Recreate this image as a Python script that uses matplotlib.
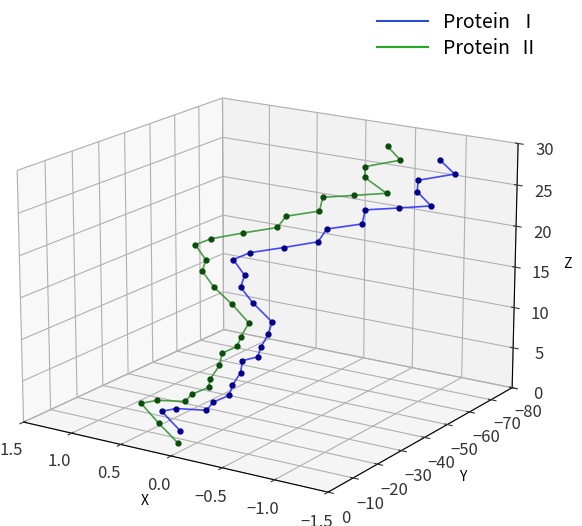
import numpy as np
import matplotlib
matplotlib.use("Agg")
import matplotlib.pyplot as plt
from matplotlib.lines import Line2D

plt.rcParams['font.family'] = ['Noto Sans CJK SC', 'DejaVu Sans']
plt.rcParams['axes.unicode_minus'] = True

# backbone coordinates (bottom -> top)
p1_x = [0.17, 0.45, 0.27, -0.08, -0.13, -0.26, -0.26, -0.26, -0.22, -0.39,
        -0.39, -0.38, -0.35, -0.05, 0.14, 0.17, 0.37, 0.23, -0.06, -0.34,
        -0.33, -0.63, -0.56, -0.90, -1.22, -1.03, -0.99, -1.28, -1.08]
p1_y = [-10.0, -13.7, -12.5, -10.6, -11.2, -12.4, -13.6, -16.8, -19.2, -18.3,
        -19.7, -23.0, -25.7, -30.1, -33.0, -35.8, -39.3, -40.4, -42.5, -44.9,
        -49.0, -51.0, -55.4, -54.9, -54.2, -56.8, -59.0, -61.7, -64.3]
p1_z = [1, 2, 3, 4, 5, 6, 7, 8, 9, 10, 11, 12, 13, 14, 15, 16, 17, 18, 19, 20,
        21, 22, 23, 24, 25, 26, 27, 28, 29]

p2_x = [0.13, 0.42, 0.71, 0.52, 0.19, 0.13, -0.01, -0.02, -0.01, 0.03,
        -0.10, -0.11, -0.08, 0.19, 0.46, 0.67, 0.70, 0.89, 0.74, 0.47,
        0.18, 0.17, -0.12, -0.05, -0.38, -0.71, -0.43, -0.39, -0.67, -0.48]
p2_y = [-7.6, -11.4, -15.6, -14.7, -12.9, -13.1, -14.2, -14.5, -18.5, -21.1,
        -21.9, -23.0, -27.4, -31.6, -35.0, -38.6, -41.2, -44.4, -45.0, -47.3,
        -49.7, -52.9, -54.8, -59.2, -58.5, -57.9, -60.8, -62.7, -65.6, -68.4]
p2_z = [0, 1, 2, 3, 4, 5, 6, 7, 8, 9, 10, 11, 12, 13, 14, 15, 16, 17, 18, 19,
        20, 21, 22, 23, 24, 25, 26, 27, 28, 29]

fig = plt.figure(figsize=(5.82, 5.26), dpi=100)
ax = fig.add_axes([-0.081, -0.086, 1.07, 1.07], projection='3d')
ax.set_box_aspect((4, 4, 2.9), zoom=0.98)

ax.plot(p1_x, p1_y, p1_z, color='#1a1aff', lw=1.2, alpha=0.8)
ax.plot(p1_x, p1_y, p1_z, ls='none', marker='o', ms=3.5, color='#00008b')
ax.plot(p2_x, p2_y, p2_z, color='#1f8a1f', lw=1.2, alpha=0.8)
ax.plot(p2_x, p2_y, p2_z, ls='none', marker='o', ms=3.5, color='#0b4d0b')

ax.set_xlim(-1.5, 1.5)
ax.set_ylim(-80, 0)
ax.set_zlim(0, 30)
ax.set_xticks([-1.5, -1.0, -0.5, 0.0, 0.5, 1.0, 1.5])
ax.set_yticks([-80, -70, -60, -50, -40, -30, -20, -10, 0])
ax.set_zticks([0, 5, 10, 15, 20, 25, 30])
ax.set_xlabel('X', labelpad=5)
ax.set_ylabel('Y', labelpad=5)
ax.set_zlabel('Z', labelpad=2)
ax.tick_params(labelsize=12, colors='#333333')
ax.tick_params(axis='x', pad=4)
ax.view_init(elev=17, azim=123)

handles = [Line2D([], [], color='#2a4bd7', lw=1.5),
           Line2D([], [], color='#22aa22', lw=1.5)]
fig.legend(handles, ['Protein  Ⅰ', 'Protein  Ⅱ'], loc='upper right',
           bbox_to_anchor=(0.955, 1.01), frameon=False, fontsize=14,
           handlelength=2.6, labelspacing=0.25)

fig.savefig('out.png', dpi=100)
